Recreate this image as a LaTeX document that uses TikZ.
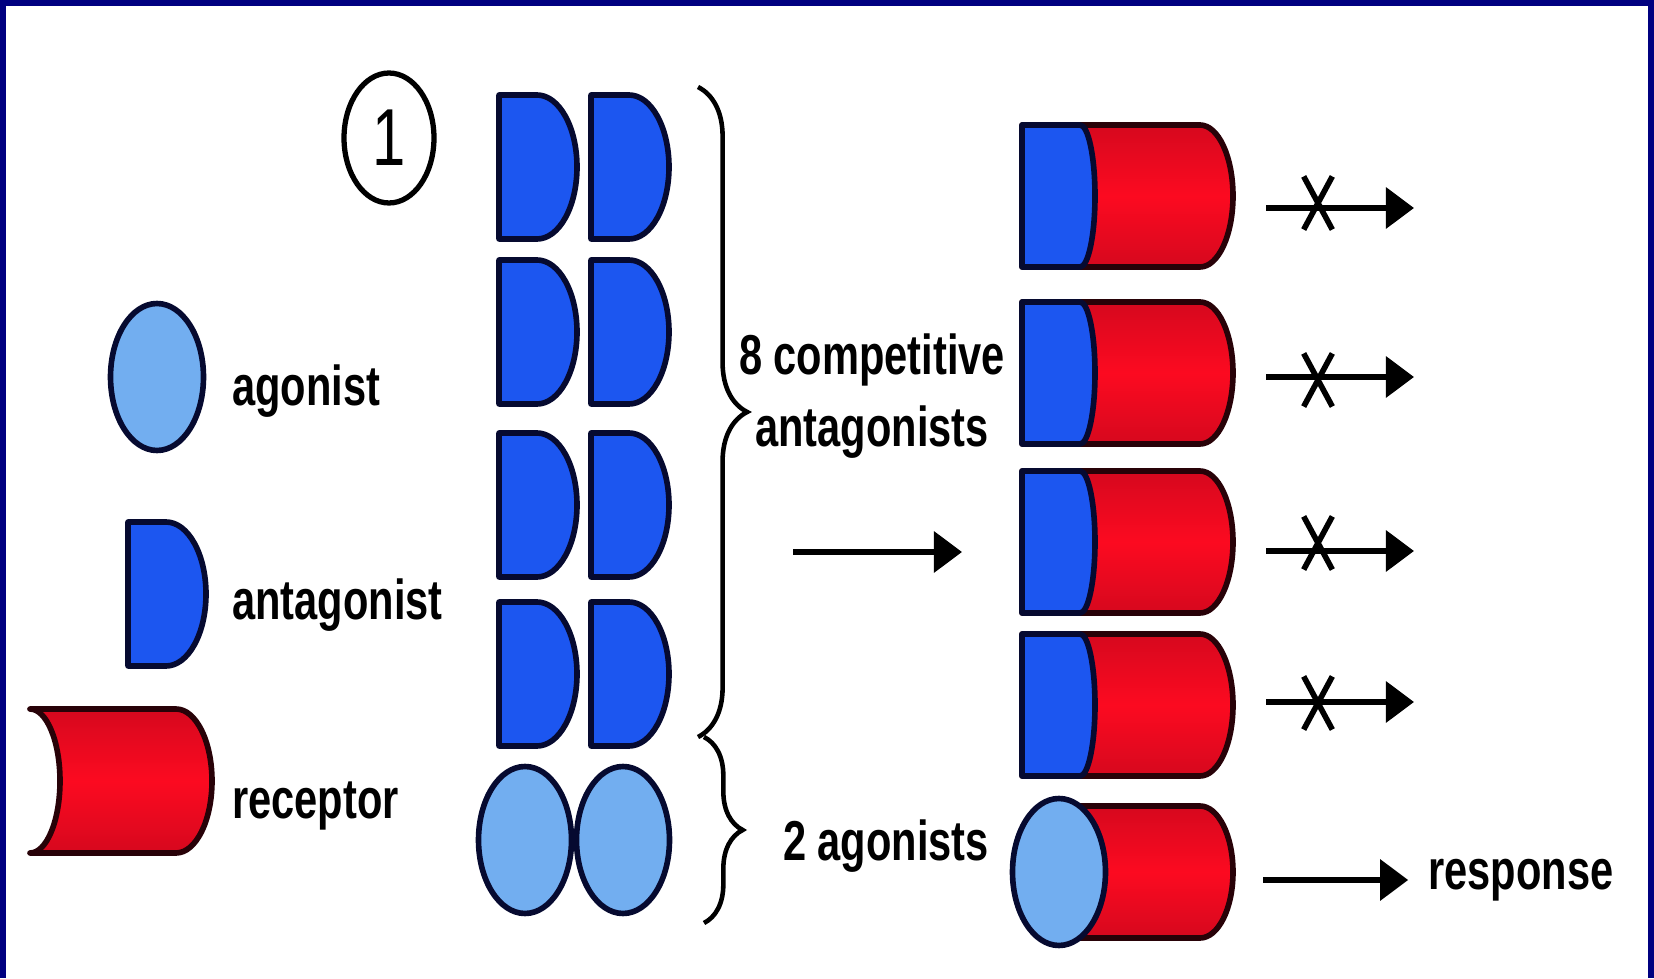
\documentclass[tikz,border=0pt]{standalone}
\usepackage{fontspec}
\setmainfont{Liberation Sans}
\newfontfamily\tagfont{Liberation Sans}[FakeStretch=0.74]
\usetikzlibrary{arrows.meta,decorations.pathreplacing,shapes.geometric,shapes.misc}
\definecolor{frame-color}{RGB}{0,0,128}
\definecolor{ant-color}{RGB}{28,86,240}
\definecolor{ago-color}{RGB}{114,174,240}
\definecolor{rec-color}{RGB}{252,10,32}
\definecolor{rec-dark}{RGB}{214,8,30}
\definecolor{edge-color}{RGB}{6,10,48}
\definecolor{rec-edge}{RGB}{40,2,8}
\tikzset{
  outline/.style={draw=edge-color, line width=3.2pt, line join=round},
  agonist/.style={ellipse, outline, fill=ago-color, minimum width=1.86cm,
    minimum height=2.94cm, inner sep=0},
  ant-fill/.style={outline, fill=ant-color},
  rec-fill/.style={draw=rec-edge, line width=3.2pt, line join=round,
    top color=rec-dark, bottom color=rec-dark, middle color=rec-color},
  caption/.style={font=\tagfont\bfseries\fontsize{32}{41}\selectfont, inner sep=0},
  signal/.style={line width=3.2pt, -{Triangle[length=16pt,width=23pt]}},
  blocker/.style={cross out, draw, line width=3.2pt, minimum width=0.46cm,
    minimum height=0.95cm, inner sep=0},
  curly/.style={decorate, decoration={brace, amplitude=#1}, line width=2.6pt}
}
\tikzset{
  antagonist/.pic={
    \path[ant-fill] (-39,72) -- (-1,72)
      arc[start angle=90, end angle=-90, x radius=40, y radius=72] -- (-39,-72) -- cycle;
  },
  receptor/.pic={
    \path[rec-fill] (-91,72) -- (55,72)
      arc[start angle=90, end angle=-90, x radius=36, y radius=72] -- (-91,-72)
      arc[start angle=-90, end angle=90, x radius=30, y radius=72] -- cycle;
  },
  blocked/.pic={
    \path[rec-fill] (0,71) -- (178,71)
      arc[start angle=90, end angle=-90, x radius=33, y radius=71] -- (0,-71) -- cycle;
    \path[ant-fill] (0,71) -- (58,71)
      arc[start angle=90, end angle=-90, x radius=15, y radius=71] -- (0,-71) -- cycle;
  },
  bound/.pic={
    \path[rec-fill] (0,66) -- (141,66)
      arc[start angle=90, end angle=-90, x radius=33, y radius=66] -- (0,-66) -- cycle;
  }
}

\begin{document}
\begin{tikzpicture}[x=0.02cm, y=0.02cm]
  \useasboundingbox (0,0) rectangle (1654,978);
  \fill[frame-color] (0,0) rectangle (1654,978);
  \fill[white] (6,0) rectangle (1648,972);

  % key
  \node[ellipse, draw, line width=3pt, minimum width=1.8cm, minimum height=2.6cm,
        inner sep=0, font=\tagfont\fontsize{46}{46}\selectfont] (panel-no) at (389,840) {1};
  \node[agonist] (key-ago) at (157,601) {};
  \pic at (167,384) {antagonist};
  \pic at (121,197) {receptor};
  \node[caption, anchor=west] (lbl-ago) at (232,587) {agonist};
  \node[caption, anchor=west] (lbl-ant) at (232,373) {antagonist};
  \node[caption, anchor=west] (lbl-rec) at (232,172) {receptor};

  % ligands in solution
  \foreach \y in {811,646,473,304}
    \foreach \x in {538,630}
      \pic at (\x,\y) {antagonist};
  \node[agonist] (ago-a) at (525,138) {};
  \node[agonist] (ago-b) at (623,138) {};

  \draw[curly=28pt] (698,891) -- (698,241);
  \draw[curly=22pt] (704,241) -- (704,55);
  \node[caption, align=center] (lbl-comp) at (872,582) {8 competitive\\antagonists};
  \node[caption] (lbl-two) at (886,132) {2 agonists};

  \coordinate (mix-in) at (793,426);
  \coordinate (mix-out) at (962,426);
  \draw[signal] (mix-in) -- (mix-out);

  % occupied receptors
  \foreach \y in {782,605,436,273}
    \pic at (1022,\y) {blocked};
  \pic at (1059,106) {bound};
  \node[agonist] (ago-bound) at (1059,106) {};

  \foreach \i/\y/\c in {1/770/775, 2/601/598, 3/427/435, 4/276/275} {
    \coordinate (out-\i) at (1266,\y);
    \coordinate (end-\i) at (1414,\y);
    \draw[signal] (out-\i) -- (end-\i);
    \node[blocker] (stop-\i) at (1318,\c) {};
  }
  \node[caption, inner xsep=0.4cm] (response) at (1521,98) {response};
  \coordinate (out-5) at (1263,98);
  \draw[signal] (out-5) -- (response);
\end{tikzpicture}
\end{document}
